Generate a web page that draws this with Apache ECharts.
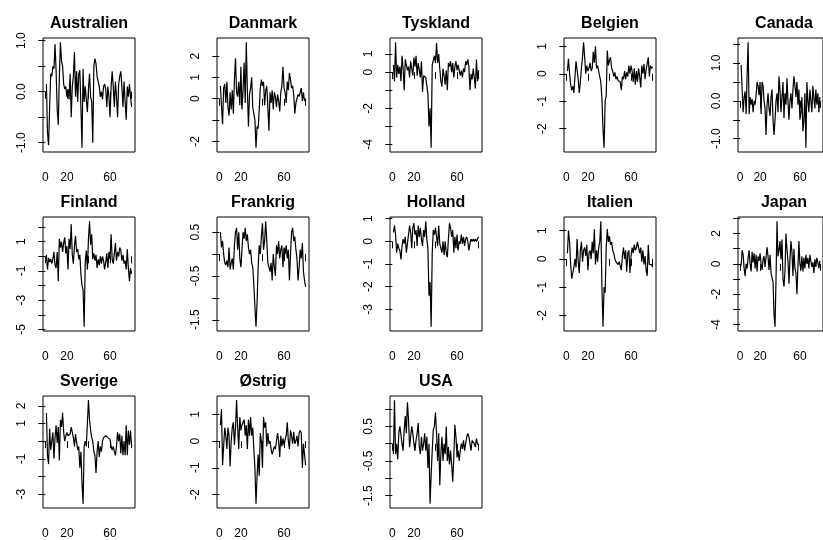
<!DOCTYPE html>
<html><head><meta charset="utf-8">
<script src="https://cdn.jsdelivr.net/npm/echarts@6/dist/echarts.min.js"></script>
<style>html,body{margin:0;padding:0;background:#fff}#c{width:823px;height:540px}</style>
</head><body><div id="c"></div>
<script>
const countries = ["Australien","Danmark","Tyskland","Belgien","Canada","Finland","Frankrig","Holland","Italien","Japan","Sverige","Østrig","USA"];

const australien = [0.15,-0.8,-1.05,-0.3,0.35,0.3,0.5,0.45,0.93,0.4,
 -0.35,-0.65,0.3,0.97,0.6,0.5,0.15,0.05,0.1,-0.1,
 0.05,-0.15,0.35,-0.5,0.1,0.3,0.78,-0.1,0.4,-0.2,
 0.35,0.42,-0.3,-1.1,0.45,-0.2,0.1,-0.15,-0.4,0.05,
 0.35,-0.1,-0.2,-1.0,0.5,0.65,0.55,0.3,0.2,0.1,
 -0.1,0.0,-0.15,0.1,0.15,0.05,-0.3,0.1,-0.1,-0.5,
 0.1,0.4,0.1,-0.3,0.2,-0.1,-0.5,0.15,0.3,0.4,
 0.1,-0.3,0.2,-0.2,-0.55,0.1,-0.1,0.15,-0.1,-0.3];
const danmark = [0.6,-0.35,-1.2,0.5,0.7,-0.2,0.8,-0.4,-0.8,0.3,
 -0.5,0.4,-0.7,0.9,1.9,0.3,0.1,0.8,-0.3,1.5,
 -0.5,0.4,1.7,-0.2,2.65,0.4,-1.3,0.2,0.5,1.0,
 -0.4,-0.7,-1.0,-2.3,-1.3,-1.4,-0.5,0.5,0.9,0.6,
 0.8,-0.3,0.4,0.6,-0.4,-1.5,0.3,-0.2,0.4,-0.5,
 0.3,0.1,-0.4,0.2,-0.1,-0.6,0.3,0.6,1.5,0.5,
 0.3,-0.2,0.8,0.4,1.2,0.9,0.5,0.6,0.2,-0.7,
 -0.2,0.0,0.2,0.1,0.3,0.5,-0.1,0.3,-0.1,0.0];
const tyskland = [0.4,-0.5,1.65,-0.3,0.4,-0.1,0.3,-0.5,0.9,0.2,
 -1.0,0.7,0.4,0.1,0.3,-0.3,0.6,0.2,-0.2,0.8,
 0.3,0.9,-0.2,0.5,0.1,-0.3,0.6,-1.1,-0.2,-0.1,
 -0.3,-0.4,-1.2,-3.0,-2.0,-4.18,0.4,0.3,0.9,0.5,
 1.6,0.5,1.0,0.2,-0.5,-0.8,0.2,-0.2,-0.7,0.1,
 -1.0,0.5,0.3,0.6,0.0,0.5,-0.3,0.3,0.6,0.1,
 0.4,0.3,-0.2,0.1,-0.3,0.2,0.0,0.6,0.4,0.7,
 0.3,-1.0,-0.1,-0.4,0.2,-0.3,-0.9,0.7,-0.5,0.1];
const belgien = [0.1,0.55,0.0,-0.4,-0.6,-0.45,-0.7,-0.1,0.45,0.4,
 -0.2,-0.7,-0.3,0.2,0.6,1.15,0.6,0.0,0.3,0.1,
 0.2,0.4,0.1,0.2,0.8,0.4,1.0,0.2,0.3,0.1,
 -0.1,-0.3,-0.9,-2.0,-2.7,-1.0,-0.8,0.85,0.3,0.5,
 0.6,0.2,0.1,-0.1,0.05,-0.2,-0.1,-0.25,-0.2,-0.3,
 -0.6,-0.1,-0.2,0.1,-0.2,0.05,-0.1,0.3,0.0,0.3,
 0.1,-0.3,0.2,-0.4,0.1,-0.3,0.2,-0.1,-0.5,0.3,
 0.0,0.35,-0.2,0.15,0.1,0.6,-0.1,0.3,0.2,0.25];
const canada = [0.95,0.3,-0.3,0.1,0.25,-0.35,0.7,1.55,-0.35,0.1,
 -0.1,0.05,-0.3,0.0,-0.1,0.15,0.5,0.4,0.15,0.5,
 -0.35,0.5,0.4,0.0,-0.2,-0.9,-0.1,0.2,-0.2,-0.4,
 0.1,0.3,-0.5,-0.9,-0.5,0.0,0.2,-0.3,0.65,0.3,
 -0.3,0.1,0.5,-0.45,0.2,-0.1,0.6,0.0,-0.5,0.0,
 0.2,-0.2,0.3,0.65,0.4,0.1,0.5,-0.1,0.3,-0.5,
 -0.3,0.1,-0.8,-0.5,0.2,-1.24,0.5,0.0,-0.3,0.3,
 0.0,-0.3,0.4,0.1,-0.2,0.3,-0.1,0.2,-0.3,0.1];
const finland = [0.1,-0.9,-0.1,-0.4,-0.2,-0.5,-0.2,0.3,-0.6,-0.8,
 0.3,-1.7,1.2,0.6,1.0,0.3,0.9,1.3,0.2,0.7,
 -0.9,1.2,0.5,2.2,0.1,-0.5,0.7,1.4,0.3,0.5,
 -0.2,0.1,-1.2,-2.0,-2.3,-4.82,-0.4,0.4,-0.9,1.2,
 2.4,0.8,1.5,-0.2,0.2,-0.3,0.1,-0.8,-0.2,-0.6,
 0.0,-0.5,0.0,-0.3,-0.9,-0.4,0.2,-0.8,0.3,-0.2,
 1.5,-0.2,-0.5,0.2,0.9,-0.3,0.3,0.0,0.6,0.4,
 -0.3,0.1,-0.5,-0.3,-0.9,0.5,-0.8,-1.7,-0.8,-1.2];
const frankrig = [0.5,0.15,0.3,0.0,-0.2,-0.25,-0.15,-0.3,0.15,-0.35,
 -0.2,-0.1,-0.35,0.2,0.5,0.6,0.1,0.5,-0.1,-0.3,
 0.1,0.5,0.35,0.6,0.3,0.45,0.15,0.0,0.1,-0.2,
 -0.3,-0.7,-1.2,-1.66,-1.1,-0.3,0.2,0.0,0.4,0.7,
 0.1,0.3,0.75,0.3,-0.2,-0.3,-0.4,-0.2,-0.6,0.0,
 -0.3,-0.5,0.2,0.0,0.3,-0.1,0.1,0.2,-0.3,0.15,
 0.0,0.2,-0.1,0.1,-0.6,0.0,0.5,0.6,0.3,0.4,
 0.1,-0.1,-0.6,-0.3,0.1,-0.1,0.25,-0.4,-0.6,-0.75];
const holland = [0.4,0.7,0.3,-0.5,-0.1,-0.3,-0.4,-0.8,-0.2,0.1,
 -0.1,0.2,-0.5,-0.1,0.3,0.7,0.4,-0.3,0.6,0.8,
 0.3,0.5,-0.2,0.7,0.2,0.6,0.1,-0.2,0.5,0.2,
 0.89,0.1,-0.3,-2.4,-1.8,-3.77,-0.5,0.5,0.3,0.6,
 0.2,-0.2,0.7,-0.1,-0.3,-0.5,0.0,-0.6,0.0,-0.5,
 -0.7,0.1,0.8,0.6,0.2,0.5,-0.5,0.2,-0.3,0.3,
 -0.4,0.0,-0.1,0.3,-0.1,0.2,-0.2,0.1,0.2,0.0,
 -0.4,-0.1,0.1,0.0,0.1,0.0,0.1,0.0,0.1,0.2];
const italien = [0.2,1.0,0.6,-0.2,-0.7,-0.5,-0.3,0.0,-0.3,0.7,
 -0.1,-0.5,0.3,0.6,-0.1,0.3,0.4,0.1,0.5,-0.4,
 0.2,0.3,0.0,0.6,0.2,1.05,-0.2,0.3,-0.1,0.4,
 0.6,1.33,-1.0,-2.4,-1.0,-1.2,0.4,1.05,0.6,0.8,
 0.5,0.6,0.3,0.2,0.0,-0.1,-0.15,-0.2,-0.1,-0.05,
 -0.4,0.1,0.4,0.0,0.3,-0.45,0.2,0.3,-0.5,0.1,
 0.4,0.2,0.5,0.3,0.4,0.6,0.4,0.2,0.4,-0.1,
 0.3,-0.2,0.1,-0.4,-0.6,0.5,-0.2,-0.25,-0.2,-0.3];
const japan = [-0.1,0.9,0.6,-0.3,-0.8,0.0,-0.3,0.4,0.9,0.0,
 -0.5,0.8,0.1,0.7,-0.3,0.6,-0.5,0.5,0.2,0.7,
 0.0,-0.4,0.3,0.5,-0.2,-0.3,1.1,0.5,-0.4,0.6,
 -0.6,-0.9,-1.2,-3.3,-4.14,-1.0,2.81,0.5,0.9,1.5,
 0.3,1.6,-1.0,-1.5,-0.5,2.0,1.0,0.2,-1.3,0.3,
 1.5,0.8,-0.8,1.0,-0.3,-0.6,-2.0,-0.2,1.5,0.0,
 -0.4,0.5,-0.5,0.4,-0.3,0.6,0.0,0.4,-0.3,0.6,
 0.5,-0.2,0.1,-0.6,0.3,-0.2,0.4,0.1,-0.3,0.2];
const sverige = [1.6,-0.8,-1.3,0.7,-0.5,0.0,0.5,-1.0,0.2,0.9,
 -0.1,0.8,-1.1,1.2,0.8,1.6,0.5,0.0,0.3,0.5,
 0.3,0.2,0.4,0.8,0.9,0.2,-0.3,0.4,0.5,-0.5,
 -0.3,-1.5,-0.6,-2.4,-3.55,-0.3,0.0,-0.3,1.0,2.32,
 1.2,0.6,0.2,0.0,-0.6,-0.8,-1.8,-0.6,0.0,-0.9,
 -0.3,-0.6,0.0,0.2,0.1,0.3,0.4,0.2,0.3,0.1,
 -0.3,-0.5,-0.3,-0.6,-0.8,-0.3,0.5,0.0,0.4,-0.7,
 0.3,-0.8,0.0,-0.8,0.9,-0.8,0.6,-0.2,0.6,-0.3];
const oestrig = [0.6,1.2,-0.9,-0.2,0.5,0.2,-0.3,0.5,0.2,-0.95,
 0.0,0.5,0.7,-0.15,0.5,1.53,0.5,-0.3,0.9,0.4,
 0.6,0.55,0.8,0.2,0.6,-0.3,0.8,0.2,0.9,0.2,
 0.5,-0.3,-1.0,-2.35,-1.3,-0.5,-1.3,0.3,0.0,-1.0,
 0.9,0.5,0.7,-0.2,0.3,-0.1,0.0,-0.3,-0.5,-0.5,
 -0.2,-0.3,0.0,0.3,0.0,-0.6,0.2,-0.2,0.1,-0.15,
 0.05,0.2,0.7,0.0,-0.3,0.4,0.2,-0.1,0.35,-0.1,
 0.0,0.2,-0.2,0.3,0.4,0.3,-1.0,-0.1,-0.5,-0.9];
const usa = [-0.3,1.26,-0.3,0.0,-0.45,0.3,0.5,0.45,0.0,-0.2,
 0.4,0.8,0.3,1.2,0.7,-0.1,0.2,0.5,0.3,0.0,
 -0.2,0.1,0.3,0.6,-0.1,-0.3,0.2,-0.2,0.0,0.3,
 -0.2,0.2,-0.7,0.0,-1.74,-0.9,-0.2,0.4,0.5,0.9,
 0.3,-0.5,0.3,-1.2,-0.3,0.2,-0.5,0.0,-0.3,0.5,
 -0.5,-0.1,-0.6,-0.2,-0.6,-1.1,-0.4,0.55,0.2,-0.4,
 -0.2,-0.5,-0.2,0.0,-0.15,0.1,-0.2,0.0,0.2,0.3,
 0.2,0.0,-0.2,0.1,0.15,0.0,-0.1,0.15,0.0,-0.05];

const xTicks = [0,20,40,60,80];
const xTickLabels = ["0","20","60"];

const yTicksAustralien = [-1,-0.5,0,0.5,1];   const yLabelsAustralien = ["1.0","0.0","-1.0"];
const yTicksDanmark = [-2,-1,0,1,2];          const yLabelsDanmark = ["2","1","0","-2"];
const yTicksTyskland = [-4,-3,-2,-1,0,1];     const yLabelsTyskland = ["1","0","-2","-4"];
const yTicksBelgien = [-2,-1,0,1];            const yLabelsBelgien = ["1","0","-1","-2"];
const yTicksCanada = [-1,-0.5,0,0.5,1,1.5];   const yLabelsCanada = ["1.0","0.0","-1.0"];
const yTicksFinland = [-5,-4,-3,-2,-1,0,1,2]; const yLabelsFinland = ["1","-1","-3","-5"];
const yTicksFrankrig = [-1.5,-1,-0.5,0,0.5];  const yLabelsFrankrig = ["0.5","-0.5","-1.5"];
const yTicksHolland = [-3,-2,-1,0,1];         const yLabelsHolland = ["1","0","-1","-2","-3"];
const yTicksItalien = [-2,-1,0,1];            const yLabelsItalien = ["1","0","-1","-2"];
const yTicksJapan = [-4,-3,-2,-1,0,1,2,3];    const yLabelsJapan = ["2","0","-2","-4"];
const yTicksSverige = [-3,-2,-1,0,1,2];       const yLabelsSverige = ["2","1","-1","-3"];
const yTicksOestrig = [-2,-1,0,1];            const yLabelsOestrig = ["1","0","-1","-2"];
const yTicksUSA = [-1.5,-1,-0.5,0,0.5,1];     const yLabelsUSA = ["0.5","-0.5","-1.5"];

const seriesValues = [australien,danmark,tyskland,belgien,canada,finland,frankrig,holland,italien,japan,sverige,oestrig,usa];
const yTicks = [yTicksAustralien,yTicksDanmark,yTicksTyskland,yTicksBelgien,yTicksCanada,yTicksFinland,yTicksFrankrig,yTicksHolland,yTicksItalien,yTicksJapan,yTicksSverige,yTicksOestrig,yTicksUSA];
const yLabels = [yLabelsAustralien,yLabelsDanmark,yLabelsTyskland,yLabelsBelgien,yLabelsCanada,yLabelsFinland,yLabelsFrankrig,yLabelsHolland,yLabelsItalien,yLabelsJapan,yLabelsSverige,yLabelsOestrig,yLabelsUSA];

// layout
const colLeft = [43, 217, 390, 564, 738];
const rowTop = [38, 217, 396];
const boxW = 92, boxH = 114;
const FONT = "'Liberation Sans', Arial, sans-serif";

const grids = [], xAxes = [], yAxes = [], series = [], titles = [];
countries.forEach((name, i) => {
  const col = i % 5, row = Math.floor(i / 5);
  const left = colLeft[col], top = rowTop[row];
  const vals = seriesValues[i];
  const n = vals.length;
  const lo = Math.min(...vals), hi = Math.max(...vals), r = hi - lo;
  const xr = n - 1;
  grids.push({left: left, top: top, width: boxW, height: boxH, show: true,
    borderColor: '#000', borderWidth: 1, backgroundColor: 'transparent', containLabel: false});
  xAxes.push({
    type: 'value', gridIndex: i, min: 1 - 0.04 * xr, max: n + 0.04 * xr,
    axisLine: {show: false}, splitLine: {show: false},
    axisTick: {show: true, customValues: xTicks, length: 7, lineStyle: {color: '#000', width: 1}},
    axisLabel: {customValues: xTickLabels.map(Number), margin: 20, color: '#000', fontSize: 12,
      fontFamily: FONT, formatter: v => String(v)}
  });
  const labs = yLabels[i];
  yAxes.push({
    type: 'value', gridIndex: i, min: lo - 0.04 * r, max: hi + 0.04 * r,
    axisLine: {show: false}, splitLine: {show: false},
    axisTick: {show: true, customValues: yTicks[i], length: 7, lineStyle: {color: '#000', width: 1}},
    axisLabel: {customValues: labs.map(Number), rotate: 90, margin: 15, color: '#000', fontSize: 12,
      fontFamily: FONT,
      formatter: v => { const s = labs.find(l => Math.abs(Number(l) - v) < 1e-9); return s === undefined ? '' : s; }}
  });
  series.push({
    type: 'line', xAxisIndex: i, yAxisIndex: i, showSymbol: false, symbol: 'none',
    lineStyle: {color: '#000', width: 1.2}, itemStyle: {color: '#000'},
    data: vals.map((v, k) => [k + 1, v]), animation: false, silent: true
  });
  titles.push({
    text: name, left: left + boxW / 2, top: top - 22, textAlign: 'center', padding: 0,
    textStyle: {fontSize: 16, fontWeight: 'bold', color: '#000', fontFamily: FONT}
  });
});

const chart = echarts.init(document.getElementById('c'), null, {renderer: 'canvas'});
chart.setOption({
  backgroundColor: '#fff',
  animation: false,
  title: titles,
  grid: grids,
  xAxis: xAxes,
  yAxis: yAxes,
  series: series
});
</script>
</body></html>
